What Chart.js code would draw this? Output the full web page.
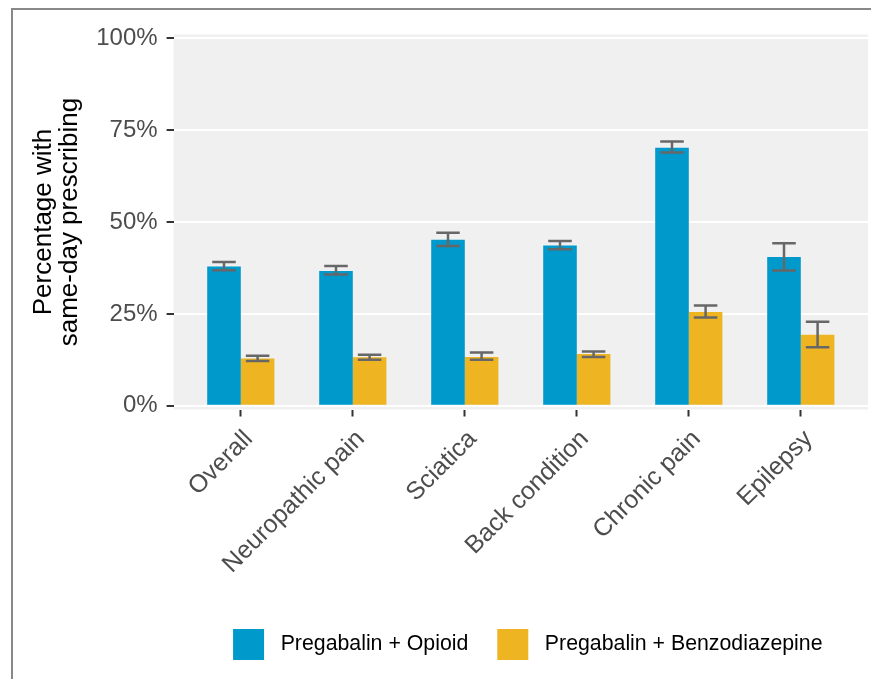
<!DOCTYPE html>
<html>
<head>
<meta charset="utf-8">
<script src="https://cdn.jsdelivr.net/npm/chart.js@4"></script>
<style>
  body { margin: 0; background: #fff; }
  #wrap { position: relative; width: 871px; height: 679px; overflow: hidden; }
  #frame { position: absolute; left: 11px; top: 8px; width: 900px; height: 700px;
           border-left: 2px solid #888; border-top: 2px solid #888; }
  #bar-chart { position: absolute; left: 0; top: 0; }
</style>
</head>
<body>
<div id="wrap">
  <div id="frame"></div>
  <canvas id="bar-chart" width="871" height="679"></canvas>
</div>
<script>
// data (percent)
var categories = ["Overall", "Neuropathic pain", "Sciatica", "Back condition", "Chronic pain", "Epilepsy"];
var opioid   = [37.9, 36.7, 45.2, 43.6, 70.2, 40.5];
var opioidLo = [36.9, 35.7, 43.5, 42.6, 68.9, 36.8];
var opioidHi = [39.1, 38.0, 47.1, 44.8, 71.9, 44.2];
var benzo    = [12.9, 13.2, 13.3, 14.1, 25.5, 19.3];
var benzoLo  = [12.2, 12.5, 12.5, 13.3, 24.0, 15.9];
var benzoHi  = [13.6, 13.9, 14.5, 14.8, 27.3, 22.9];
var yTicks   = [0, 25, 50, 75, 100];

Chart.defaults.font.family = "'Liberation Sans', Arial, sans-serif";

function points(vals) {
    return vals.map(function (v, i) { return { x: i, y: v }; });
}

// grey panel behind the plot, ggplot style
var panel = {
    id: 'panel',
    beforeDraw: function (chart) {
        var a = chart.chartArea, ctx = chart.ctx;
        ctx.save();
        ctx.fillStyle = '#F0F0F0';
        ctx.fillRect(a.left, a.top, a.right - a.left, a.bottom - a.top);
        ctx.restore();
    }
};

// nudge the legend a little right, like the original
var legendShift = {
    id: 'legendShift',
    afterLayout: function (chart) {
        chart.legend.left += 7;
        chart.legend.right += 7;
    }
};

// error bars from the lo/hi arrays
var errorBars = {
    id: 'errorBars',
    afterDatasetsDraw: function (chart) {
        var ctx = chart.ctx, y = chart.scales.y;
        ctx.save();
        ctx.strokeStyle = '#676767';
        ctx.lineWidth = 2.5;
        chart.data.datasets.forEach(function (ds, d) {
            chart.getDatasetMeta(d).data.forEach(function (bar, i) {
                var top = y.getPixelForValue(ds.hi[i]);
                var bot = y.getPixelForValue(ds.lo[i]);
                var half = bar.width * 0.35;
                ctx.beginPath();
                ctx.moveTo(bar.x, top); ctx.lineTo(bar.x, bot);
                ctx.moveTo(bar.x - half, top); ctx.lineTo(bar.x + half, top);
                ctx.moveTo(bar.x - half, bot); ctx.lineTo(bar.x + half, bot);
                ctx.stroke();
            });
        });
        ctx.restore();
    }
};

new Chart(document.getElementById("bar-chart"), {
    type: 'bar',
    data: {
        datasets: [
            {
                label: " Pregabalin + Opioid",
                backgroundColor: "#0099CC",
                data: points(opioid),
                lo: opioidLo, hi: opioidHi
            },
            {
                label: " Pregabalin + Benzodiazepine",
                backgroundColor: "#EEB422",
                data: points(benzo),
                lo: benzoLo, hi: benzoHi
            }
        ]
    },
    options: {
        responsive: false,
        animation: false,
        categoryPercentage: 0.6,
        barPercentage: 1.0,
        layout: { padding: { top: 34.5, right: 3, bottom: 9, left: 0 } },
        plugins: {
            tooltip: { enabled: false },
            legend: {
                position: 'bottom',
                fullSize: false,
                labels: {
                    boxWidth: 31, boxHeight: 31, padding: 29,
                    color: '#000',
                    font: { size: 21.3 }
                }
            }
        },
        scales: {
            x: {
                type: 'linear',
                min: -0.6, max: 5.6,
                offset: false,
                afterBuildTicks: function (scale) {
                    scale.ticks = categories.map(function (c, i) { return { value: i }; });
                },
                afterFit: function (scale) { scale.height = 190.5; },
                grid: { offset: false, drawOnChartArea: false, tickLength: 7, tickColor: '#333', tickWidth: 2 },
                border: { display: false },
                ticks: {
                    autoSkip: false,
                    minRotation: 45, maxRotation: 45,
                    labelOffset: 8,
                    padding: 8,
                    color: '#4D4D4D',
                    font: { size: 25 },
                    callback: function (v) { return categories[v]; }
                }
            },
            y: {
                min: -1, max: 101,
                afterBuildTicks: function (scale) {
                    scale.ticks = yTicks.map(function (v) { return { value: v }; });
                },
                afterFit: function (scale) { scale.width = 173.6; },
                grid: { color: '#FFFFFF', lineWidth: 2, tickLength: 7, tickColor: '#333', tickWidth: 2 },
                border: { display: false },
                ticks: {
                    padding: 9,
                    color: '#4D4D4D',
                    font: { size: 24 },
                    callback: function (v) { return v + '%'; }
                },
                title: {
                    display: true,
                    text: ['Percentage with', 'same-day prescribing'],
                    color: '#000',
                    font: { size: 26, lineHeight: 1.0 },
                    padding: { top: 31, bottom: 0 }
                }
            }
        }
    },
    plugins: [panel, legendShift, errorBars]
});
</script>
</body>
</html>
